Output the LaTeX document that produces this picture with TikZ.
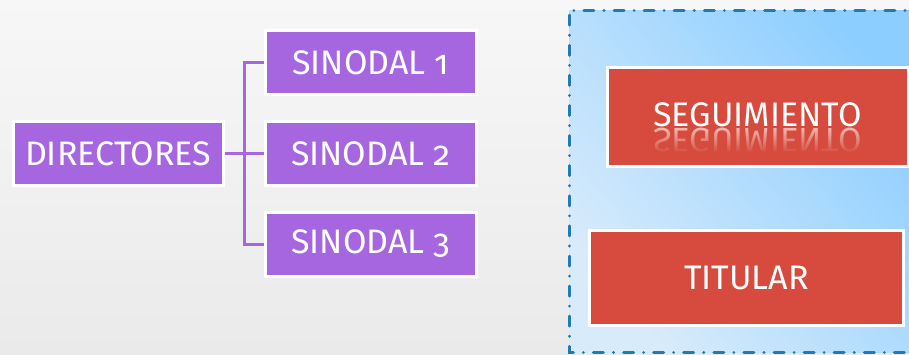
\documentclass[tikz,border=0pt]{standalone}
\usepackage{fontspec}
\setmainfont{Fira Sans}[Numbers=OldStyle]
\usetikzlibrary{fadings}
\definecolor{purp}{HTML}{A566E0}
\definecolor{redc}{HTML}{D64B3D}
\definecolor{dashblue}{HTML}{1E7BB6}
\definecolor{lightblue}{HTML}{D8EBFB}
\definecolor{deepblue}{HTML}{8CCEFF}
\definecolor{bgtop}{HTML}{F7F7F7}
\definecolor{bgbot}{HTML}{EAEAEA}
\tikzset{
  bigfont/.style={font=\fontsize{34}{38}\selectfont},
  pbox/.style={fill=purp, draw=white, line width=3pt, text=white, inner sep=0pt,
    minimum height=64pt, bigfont},
  rbox/.style={fill=redc, draw=white, line width=3pt, text=white, inner sep=0pt,
    bigfont},
  conn/.style={draw=purp, line width=3pt},
  panel/.style={draw=dashblue, line width=3pt, line cap=round,
    dash pattern=on 10pt off 10pt on 0.1pt off 10pt},
}
\begin{document}
\begin{tikzpicture}[x=1pt,y=-1pt]
\shade[top color=bgtop, bottom color=bgbot] (0,0) rectangle (909,354);
\useasboundingbox (0,0) rectangle (909,354);
% right panel
\shade[bottom color=lightblue, top color=deepblue, shading angle=-50] (569,10) rectangle (925,352);
\draw[panel] (925,10) -- (569,10) -- (569,352) -- (925,352);
% purple boxes
\node[pbox, minimum width=210pt] (dir) at (118,153.5) {DIRECTORES};
\node[pbox, minimum width=210.5pt] (s1) at (370.75,62.5) {SINODAL 1};
\node[pbox, minimum width=210.5pt] (s2) at (370.75,153.5) {SINODAL 2};
\node[pbox, minimum width=210.5pt] (s3) at (370.75,244) {SINODAL 3};
\draw[conn] (dir.east) -- (s2.west);
\draw[conn] (s1.west) -- ++(-20,0) |- (s3.west);
% red boxes
\node[rbox, minimum width=300.5pt, minimum height=99.5pt] (seg) at (757.75,116.75) {};
\node[rbox, minimum width=314pt, minimum height=94.5pt] (tit) at (746.5,277.75) {TITULAR};
\node[text=white, anchor=base, inner sep=0pt, bigfont] (segt) at (757.5,126) {SEGUIMIENTO};
\begin{scope}[shift={(757.5,128.5)}, yscale=-1]
  \node[transform shape, text=white, opacity=0.6, anchor=base, inner sep=0pt, bigfont] (segr) at (0,0) {SEGUIMIENTO};
\end{scope}
\fill[redc, path fading=north] (610,128.5) rectangle (906,153);
\end{tikzpicture}
\end{document}
